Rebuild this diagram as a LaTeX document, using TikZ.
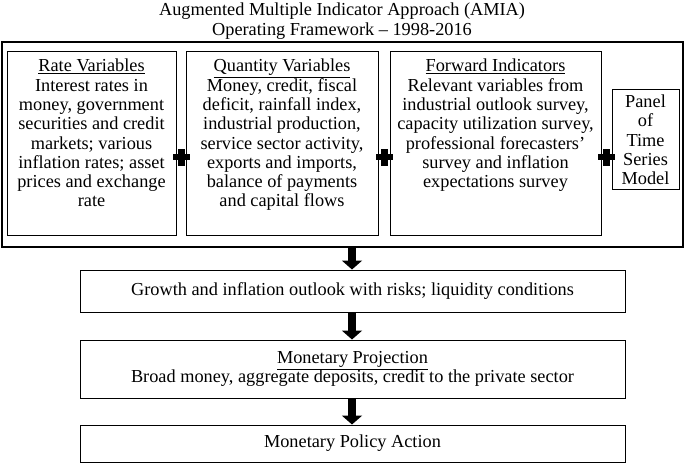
\documentclass[tikz,border=0pt]{standalone}
\usepackage{fontspec}
\setmainfont{Liberation Serif}
\usetikzlibrary{arrows.meta}
\begin{document}
\begin{tikzpicture}[x=1pt,y=-1pt,
  txt/.style={font=\fontsize{18.3}{19.3}\selectfont, align=center, inner sep=0pt},
  bx/.style={draw, line width=1pt},
  bigarrow/.style={line width=8pt, -{Triangle[width=20pt,length=9pt]}}]
\useasboundingbox (0,0) rectangle (685,465);
\node[txt] (title) at (342,21) {Augmented Multiple Indicator Approach (AMIA)\\Operating Framework -- 1998-2016};
\draw[line width=1.2pt] (2,42) rectangle (683,247);
\coordinate (outerbot) at (352,247);
\draw[bx] (7,52) rectangle (176,235);
\draw[bx] (186,52) rectangle (378,235);
\draw[bx] (390,52) rectangle (601,235);
\draw[bx] (612,90) rectangle (679,190);
\node[txt, anchor=north] (rate) at (91.5,59) {\underline{Rate Variables}\\Interest rates in\\money, government\\securities and credit\\markets; various\\inflation rates; asset\\prices and exchange\\rate};
\node[txt, anchor=north] (qty) at (282,59) {\underline{Quantity Variables}\\Money, credit, fiscal\\deficit, rainfall index,\\industrial production,\\service sector activity,\\exports and imports,\\balance of payments\\and capital flows};
\node[txt, anchor=north] (fwd) at (495.5,59) {\underline{Forward Indicators}\\Relevant variables from\\industrial outlook survey,\\capacity utilization survey,\\professional forecasters'\\survey and inflation\\expectations survey};
\node[txt] (panel) at (645.5,140) {Panel\\of\\Time\\Series\\Model};
\foreach \x in {181,384,606}{
  \fill (\x-3.5,149) rectangle (\x+3.5,166);
  \fill (\x-8.5,154.5) rectangle (\x+8.5,160.5);
}
\node[bx, txt, minimum width=545pt, minimum height=42pt] (growth) at (352.5,291) {Growth and inflation outlook with risks; liquidity conditions};
\node[bx, txt, minimum width=545pt, minimum height=58pt] (proj) at (352.5,369) {\underline{Monetary Projection}\\Broad money, aggregate deposits, credit to the private sector};
\node[bx, txt, minimum width=545pt, minimum height=37pt] (action) at (352.5,443.5) {Monetary Policy Action};
\draw[bigarrow] (outerbot) -- (growth.north -| outerbot);
\draw[bigarrow] (growth.south -| outerbot) -- (proj.north -| outerbot);
\draw[bigarrow] (proj.south -| outerbot) -- (action.north -| outerbot);
\end{tikzpicture}
\end{document}
